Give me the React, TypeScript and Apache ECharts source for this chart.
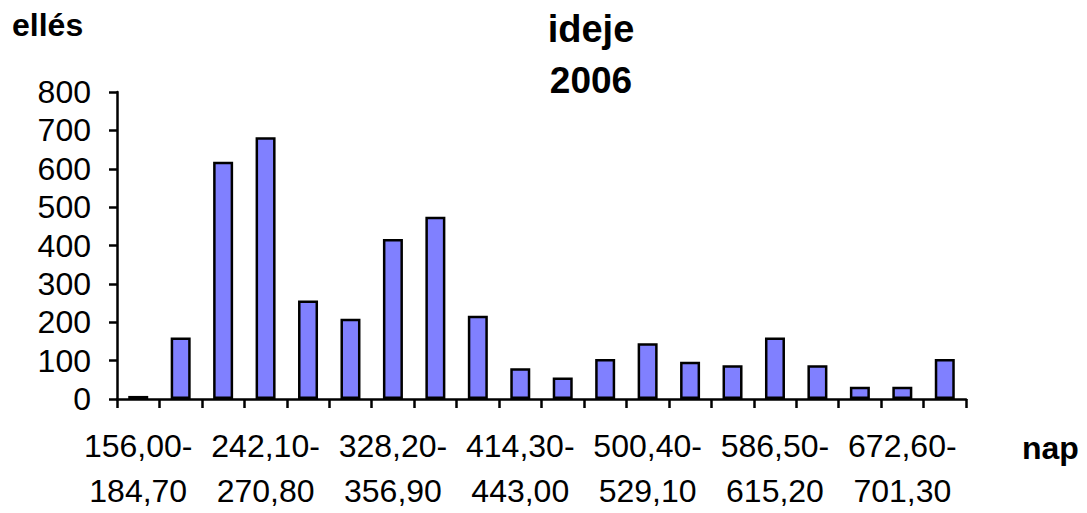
import React, { useEffect, useRef } from "react";
import * as echarts from "echarts";

const categories = [
  "156,00-184,70", "184,70-213,40", "213,40-242,10", "242,10-270,80",
  "270,80-299,50", "299,50-328,20", "328,20-356,90", "356,90-385,60",
  "385,60-414,30", "414,30-443,00", "443,00-471,70", "471,70-500,40",
  "500,40-529,10", "529,10-557,80", "557,80-586,50", "586,50-615,20",
  "615,20-643,90", "643,90-672,60", "672,60-701,30", "701,30-730,00",
];
const counts = [8, 160, 618, 682, 257, 209, 417, 475, 217, 80, 56, 104, 145, 97, 88, 160, 88, 32, 32, 104];
const yTicks = [0, 100, 200, 300, 400, 500, 600, 700, 800];
const titleLines = ["ideje", "2006"];
const yName = "ellés";
const xName = "nap";

const FONT = "Arial, 'Liberation Sans', Helvetica, sans-serif";

export default function App() {
  const ref = useRef<HTMLDivElement>(null);
  useEffect(() => {
    if (!ref.current) return;
    const chart = echarts.init(ref.current, null, { renderer: "svg" });
    chart.setOption({
      animation: false,
      backgroundColor: "#ffffff",
      grid: { left: 117, right: 121, top: 92, bottom: 113, containLabel: false },
      xAxis: {
        type: "category",
        data: categories,
        axisLine: { show: true, lineStyle: { color: "#000", width: 2.5 } },
        axisTick: { show: true, interval: 0, length: 9, lineStyle: { color: "#000", width: 2.5 } },
        axisLabel: {
          interval: 2,
          margin: 24,
          color: "#000",
          fontFamily: FONT,
          fontSize: 32,
          lineHeight: 45,
          formatter: (v: string) => v.replace("-", "-\n"),
        },
        splitLine: { show: false },
      },
      yAxis: {
        type: "value",
        min: yTicks[0],
        max: yTicks[yTicks.length - 1],
        interval: 100,
        axisLine: { show: true, lineStyle: { color: "#000", width: 2.5 } },
        axisTick: { show: true, length: 8, lineStyle: { color: "#000", width: 2.5 } },
        axisLabel: {
          margin: 26,
          color: "#000",
          fontFamily: FONT,
          fontSize: 32,
          padding: [0, 0, 7, 0],
        },
        splitLine: { show: false },
      },
      series: [
        {
          type: "bar",
          data: counts,
          barWidth: 20,
          itemStyle: { color: "#8080FF", borderColor: "#000", borderWidth: 2.5 },
        },
      ],
      graphic: [
        {
          type: "text",
          x: 12,
          y: 25,
          style: { text: yName, font: `bold 32px ${FONT}`, fill: "#000", align: "left", verticalAlign: "middle" },
        },
        {
          type: "text",
          x: 591,
          y: 29,
          style: { text: titleLines[0], font: `bold 38px ${FONT}`, fill: "#000", align: "center", verticalAlign: "middle" },
        },
        {
          type: "text",
          x: 591,
          y: 80,
          style: { text: titleLines[1], font: `bold 37px ${FONT}`, fill: "#000", align: "center", verticalAlign: "middle" },
        },
        {
          type: "text",
          x: 1022,
          y: 448,
          style: { text: xName, font: `bold 32px ${FONT}`, fill: "#000", align: "left", verticalAlign: "middle" },
        },
      ],
    });
    return () => chart.dispose();
  }, []);
  return (
    <div
      ref={ref}
      style={{ position: "fixed", left: 0, top: 0, width: 1087, height: 513, background: "#fff" }}
    />
  );
}
